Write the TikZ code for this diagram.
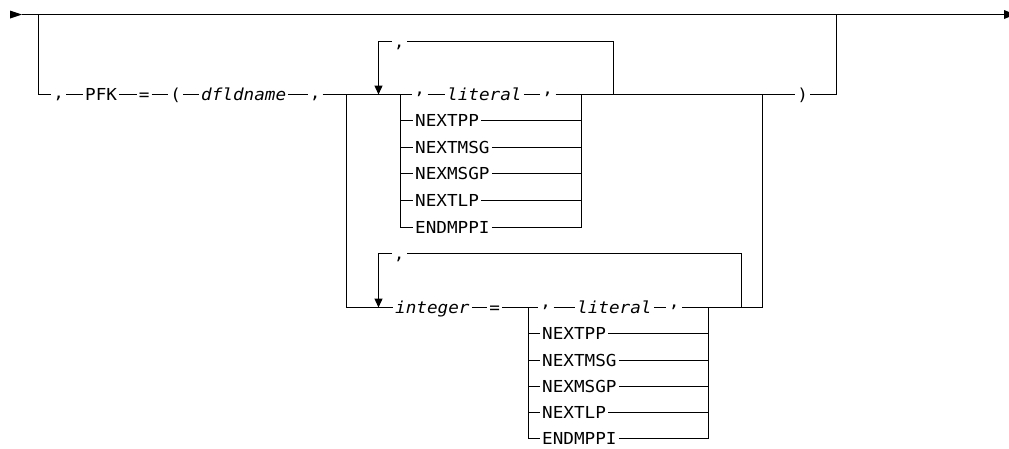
\documentclass[tikz,border=0pt]{standalone}
\usepackage{fontspec}
\newfontfamily\dmono[FakeStretch=1.07]{DejaVu Sans Mono}
\usetikzlibrary{arrows.meta}
\begin{document}
\begin{tikzpicture}[x=1pt,y=-1pt,
  ln/.style={line width=1.3pt},
  tok/.style={inner xsep=2pt, inner ysep=0pt, text height=13pt, text depth=2pt,
    anchor=west, font=\dmono\fontsize{16.5}{16.5}\selectfont},
  var/.style={tok, font=\dmono\itshape\fontsize{16.5}{16.5}\selectfont},
  darr/.style={ln, -{Triangle[width=8pt,length=9pt]}},
  tipfill/.style={fill=black}]
\useasboundingbox (0,0) rectangle (1009,448);
\newcommand\qt{\raisebox{-4pt}{’}}
\newcommand\cmm{\raisebox{2pt}{,}}

% top line
\coordinate (s) at (22,14.5);
\coordinate (jl) at (38.5,14.5);
\coordinate (jr) at (836.5,14.5);
\coordinate (e) at (1004,14.5);
\fill[tipfill] (10,10.5) -- (s) -- (10,18.5) -- cycle;
\draw[ln] (s) -- (e);
\fill[tipfill] (1004,10) -- (1009,12) -- (1009,17) -- (1004,19) -- cycle;

% main row
\node[tok] (c1) at (51.2,94.5) {\cmm};
\node[tok] (pfk) at (83,94.5) {PFK};
\node[tok] (eq1) at (136.7,94.5) {=};
\node[tok] (lp) at (168.2,94.5) {(};
\node[var] (dfl) at (199,94.5) {dfldname};
\node[tok] (c2) at (307.7,94.5) {\cmm};
\draw[ln] (jl) |- (c1.west);
\draw[ln] (c1.east) -- (pfk.west);
\draw[ln] (pfk.east) -- (eq1.west);
\draw[ln] (eq1.east) -- (lp.west);
\draw[ln] (lp.east) -- (dfl.west);
\draw[ln] (dfl.east) -- (c2.west);

\coordinate (jd) at (346.5,94.5);
\coordinate (b1l) at (400.5,94.5);
\coordinate (b1r) at (581.5,94.5);
\coordinate (lp1) at (613.5,94.5);
\coordinate (jd2) at (762.5,94.5);
\coordinate (a1) at (378.5,94.5);
\draw[ln] (c2.east) -- (b1l);

% box 1
\node[tok] (q1) at (411.7,94.5) {\qt};
\node[var] (lit1) at (445,94.5) {literal};
\node[tok] (q2) at (539.7,94.5) {\qt};
\draw[ln] (b1l) -- (q1.west);
\draw[ln] (q1.east) ++(1,0) -- (lit1.west);
\draw[ln] (lit1.east) -- (q2.west);
\draw[ln] (q2.east) ++(1,0) -- (b1r);
\foreach \t/\y [count=\k] in {NEXTPP/120.5,NEXTMSG/147.5,NEXMSGP/173.5,NEXTLP/200.5,ENDMPPI/227.5}{
  \node[tok] (u\k) at (413,\y) {\t};
  \draw[ln] (b1l) |- (u\k.west);
  \draw[ln] (u\k.east) -| (b1r);
}

% loop 1
\node[tok] (cm1) at (391.7,41.5) {,};
\draw[ln] (lp1) |- (cm1.east);
\draw[darr] (cm1.west) -| (a1);

% after box 1
\node[tok] (rp) at (795.2,94.5) {)};
\draw[ln] (b1r) -- (rp.west);
\draw[ln] (rp.east) -| (jr);

% lower branch
\coordinate (a2) at (378.5,307.5);
\coordinate (b2l) at (528.5,307.5);
\coordinate (b2r) at (708.5,307.5);
\coordinate (lp2) at (741.5,307.5);
\coordinate (jb) at (762.5,307.5);
\node[var] (int) at (393,307.5) {integer};
\node[tok] (eq2) at (487.2,307.5) {=};
\draw[ln] (jd) |- (int.west);
\draw[ln] (int.east) -- (eq2.west);
\draw[ln] (eq2.east) -- (b2l);

% box 2
\node[tok] (q3) at (537.7,307.5) {\qt};
\node[var] (lit2) at (575,307.5) {literal};
\node[tok] (q4) at (666.2,307.5) {\qt};
\draw[ln] (b2l) -- (q3.west);
\draw[ln] (q3.east) ++(1,0) -- (lit2.west);
\draw[ln] (lit2.east) -- (q4.west);
\draw[ln] (q4.east) ++(1,0) -- (b2r);
\foreach \t/\y [count=\k] in {NEXTPP/333.5,NEXTMSG/360.5,NEXMSGP/386.5,NEXTLP/412.5,ENDMPPI/438.5}{
  \node[tok] (v\k) at (540,\y) {\t};
  \draw[ln] (b2l) |- (v\k.west);
  \draw[ln] (v\k.east) -| (b2r);
}
\draw[ln] (b2r) -- (jb) -- (jd2);

% loop 2
\node[tok] (cm2) at (391.7,253.5) {,};
\draw[ln] (lp2) |- (cm2.east);
\draw[darr] (cm2.west) -| (a2);
\end{tikzpicture}
\end{document}
